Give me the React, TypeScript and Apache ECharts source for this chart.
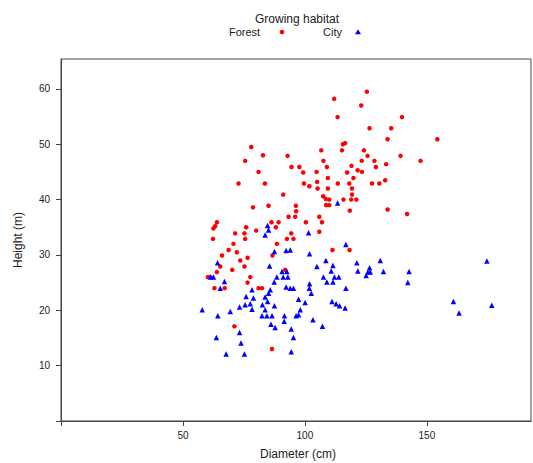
import React, { useEffect, useRef } from "react";
import * as echarts from "echarts";

const xTicks = [0, 50, 100, 150];
const xTickLabels = [50, 100, 150];
const yTicks = [0, 10, 20, 30, 40, 50, 60];
const yTickLabels = [10, 20, 30, 40, 50, 60];

const legendTitle = "Growing habitat";
const groupNames = ["Forest", "City"];
const xTitle = "Diameter (cm)";
const yTitle = "Height (m)";

const forestPoints: [number, number][] = [
  [112.0, 58.2], [125.4, 59.5], [123.1, 57.0], [113.4, 54.9], [139.8, 54.9],
  [126.5, 52.9], [135.4, 52.9], [133.9, 50.9], [154.3, 50.9], [115.6, 50.0],
  [116.5, 50.2], [115.2, 48.9], [106.7, 48.9], [124.2, 48.9], [78.0, 49.5],
  [82.8, 48.0], [92.9, 47.9], [125.7, 47.9], [139.2, 47.9], [75.5, 47.0],
  [107.6, 47.0], [123.3, 47.0], [128.5, 47.0], [147.4, 47.0], [133.3, 46.4],
  [94.5, 45.9], [97.7, 45.9], [109.0, 45.9], [119.1, 46.1], [129.1, 45.9],
  [81.0, 45.0], [99.3, 44.9], [104.8, 45.0], [121.6, 45.3], [123.4, 45.0],
  [117.3, 44.9], [109.4, 43.9], [119.9, 43.9], [132.9, 43.5], [72.8, 42.9],
  [83.6, 42.9], [99.6, 42.9], [113.5, 42.9], [118.2, 42.9], [127.5, 42.9],
  [130.5, 42.9], [101.8, 42.4], [105.0, 43.2], [105.2, 42.0], [109.4, 42.0],
  [119.3, 42.0], [91.1, 40.9], [119.3, 40.9], [107.5, 40.6], [108.6, 40.1],
  [110.0, 40.0], [115.8, 40.0], [119.0, 40.0], [121.1, 40.0], [108.7, 39.0],
  [110.0, 39.0], [78.7, 38.6], [85.1, 38.9], [96.3, 38.9], [96.4, 37.9],
  [118.4, 38.0], [133.9, 38.2], [141.9, 37.4], [93.3, 36.9], [96.0, 36.9],
  [105.9, 36.9], [107.0, 35.9], [100.4, 35.9], [63.9, 35.9], [63.2, 35.2],
  [62.5, 34.8], [75.9, 35.0], [86.3, 35.9], [89.2, 35.9], [88.1, 35.0],
  [80.0, 34.4], [75.2, 33.9], [71.4, 33.9], [94.4, 33.9], [105.9, 34.2],
  [75.5, 32.9], [62.3, 32.9], [70.7, 32.0], [88.5, 32.0], [92.6, 32.9],
  [95.3, 32.9], [68.7, 30.9], [72.1, 30.5], [66.0, 29.9], [73.5, 29.0],
  [76.5, 29.5], [86.7, 29.9], [111.3, 30.9], [118.3, 30.9], [65.3, 27.9],
  [70.2, 27.3], [75.2, 27.9], [91.9, 27.3], [63.9, 26.9], [60.2, 26.0],
  [61.2, 26.0], [76.5, 25.0], [77.6, 26.0], [81.0, 24.0], [82.4, 24.0],
  [62.9, 24.0], [67.1, 24.0], [71.1, 17.1], [86.5, 13.0],
];

const cityPoints: [number, number][] = [
  [84.7, 35.3], [85.1, 34.5], [83.7, 33.6], [113.4, 39.4], [101.5, 34.0],
  [116.8, 31.9], [87.5, 30.6], [92.3, 30.8], [94.0, 30.9], [101.9, 30.2],
  [64.2, 28.6], [85.5, 28.0], [108.6, 29.0], [104.9, 27.9], [111.5, 28.1],
  [121.3, 28.6], [130.9, 29.0], [126.5, 27.7], [121.7, 27.1], [110.8, 27.1],
  [125.8, 26.9], [126.8, 26.9], [125.1, 26.3], [132.2, 27.0], [142.7, 27.0],
  [142.2, 25.0], [90.6, 27.0], [92.6, 27.0], [62.5, 26.0], [61.3, 26.0],
  [88.5, 26.0], [91.1, 26.0], [93.0, 26.0], [107.6, 26.0], [112.1, 26.0],
  [113.9, 26.0], [67.0, 25.2], [87.4, 25.1], [109.0, 25.1], [111.5, 25.1],
  [101.9, 24.8], [116.8, 24.0], [92.3, 24.2], [94.0, 24.0], [95.3, 24.0],
  [101.8, 24.0], [78.3, 23.7], [85.8, 23.7], [85.1, 23.1], [102.6, 23.1],
  [75.9, 22.5], [78.9, 22.2], [83.7, 22.4], [84.7, 21.6], [97.4, 22.0],
  [100.1, 21.4], [111.1, 21.6], [112.8, 21.2], [114.2, 20.8], [116.5, 20.4],
  [87.5, 20.8], [73.2, 20.6], [75.5, 21.0], [77.6, 21.2], [82.6, 21.0],
  [78.3, 20.2], [57.9, 20.1], [69.4, 19.8], [82.4, 19.0], [84.4, 19.0],
  [86.5, 19.0], [91.6, 19.0], [96.4, 19.0], [97.4, 19.2], [64.3, 19.0],
  [86.1, 17.5], [87.8, 16.9], [91.5, 18.0], [103.3, 18.3], [94.4, 16.6],
  [107.2, 17.1], [73.2, 16.0], [63.7, 15.1], [95.3, 15.1], [73.8, 14.1],
  [94.4, 12.5], [67.7, 12.1], [75.2, 12.1], [160.9, 21.6], [163.2, 19.5],
  [174.6, 28.9], [176.6, 20.9], [65.3, 24.0], [98.1, 20.1], [83.7, 20.1],
];

const FONT = "'Liberation Sans', Arial, Helvetica, sans-serif";
const AXIS_COLOR = "#444";
const TEXT_COLOR = "#222";

export default function App() {
  const ref = useRef<HTMLDivElement>(null);
  useEffect(() => {
    if (!ref.current) return;
    const chart = echarts.init(ref.current, null, { renderer: "svg" });
    const axisCommon = {
      axisLine: { show: true, lineStyle: { color: AXIS_COLOR, width: 1 } },
      axisTick: { show: true, length: 5, inside: false, lineStyle: { color: AXIS_COLOR } },
      splitLine: { show: false },
    };
    chart.setOption({
      animation: false,
      backgroundColor: "#ffffff",
      grid: {
        left: 61,
        right: 2,
        top: 59,
        bottom: 42,
        show: true,
        borderColor: AXIS_COLOR,
        borderWidth: 1,
        containLabel: false,
      },
      xAxis: {
        type: "value",
        min: 0,
        max: 192.7,
        ...axisCommon,
        axisTick: { ...axisCommon.axisTick, customValues: xTicks },
        axisLabel: {
          customValues: xTickLabels,
          color: TEXT_COLOR,
          fontFamily: FONT,
          fontSize: 10,
          margin: 9,
        },
      },
      yAxis: {
        type: "value",
        min: 0,
        max: 65.4,
        ...axisCommon,
        axisTick: { ...axisCommon.axisTick, customValues: yTicks },
        axisLabel: {
          customValues: yTickLabels,
          color: TEXT_COLOR,
          fontFamily: FONT,
          fontSize: 10,
          margin: 11,
        },
      },
      series: [
        {
          name: groupNames[0],
          type: "scatter",
          data: forestPoints,
          symbol: "circle",
          symbolSize: 4.5,
          itemStyle: { color: "#ff0000", opacity: 1 },
        },
        {
          name: groupNames[1],
          type: "scatter",
          data: cityPoints,
          symbol: "triangle",
          symbolSize: 5.5,
          itemStyle: { color: "#0000ff", opacity: 1 },
        },
      ],
      graphic: [
        {
          type: "text",
          x: 297,
          y: 19,
          style: {
            text: legendTitle,
            fill: TEXT_COLOR,
            font: `12px ${FONT}`,
            textAlign: "center",
            textVerticalAlign: "middle",
          },
        },
        {
          type: "text",
          x: 229,
          y: 32,
          style: {
            text: groupNames[0],
            fill: TEXT_COLOR,
            font: `11px ${FONT}`,
            textAlign: "left",
            textVerticalAlign: "middle",
          },
        },
        {
          type: "circle",
          shape: { cx: 282, cy: 32, r: 2.3 },
          style: { fill: "#ff0000" },
        },
        {
          type: "text",
          x: 323,
          y: 32,
          style: {
            text: groupNames[1],
            fill: TEXT_COLOR,
            font: `11px ${FONT}`,
            textAlign: "left",
            textVerticalAlign: "middle",
          },
        },
        {
          type: "polygon",
          shape: { points: [[358, 29.2], [361, 34.2], [355, 34.2]] },
          style: { fill: "#0000ff" },
        },
        {
          type: "text",
          x: 298,
          y: 454,
          style: {
            text: xTitle,
            fill: TEXT_COLOR,
            font: `12px ${FONT}`,
            textAlign: "center",
            textVerticalAlign: "middle",
          },
        },
        {
          type: "text",
          x: 18,
          y: 240,
          rotation: Math.PI / 2,
          style: {
            text: yTitle,
            fill: TEXT_COLOR,
            font: `12px ${FONT}`,
            textAlign: "center",
            textVerticalAlign: "middle",
          },
        },
      ],
    });
    return () => chart.dispose();
  }, []);
  return (
    <div
      ref={ref}
      style={{ position: "absolute", left: 0, top: 0, width: 533, height: 463 }}
    />
  );
}
